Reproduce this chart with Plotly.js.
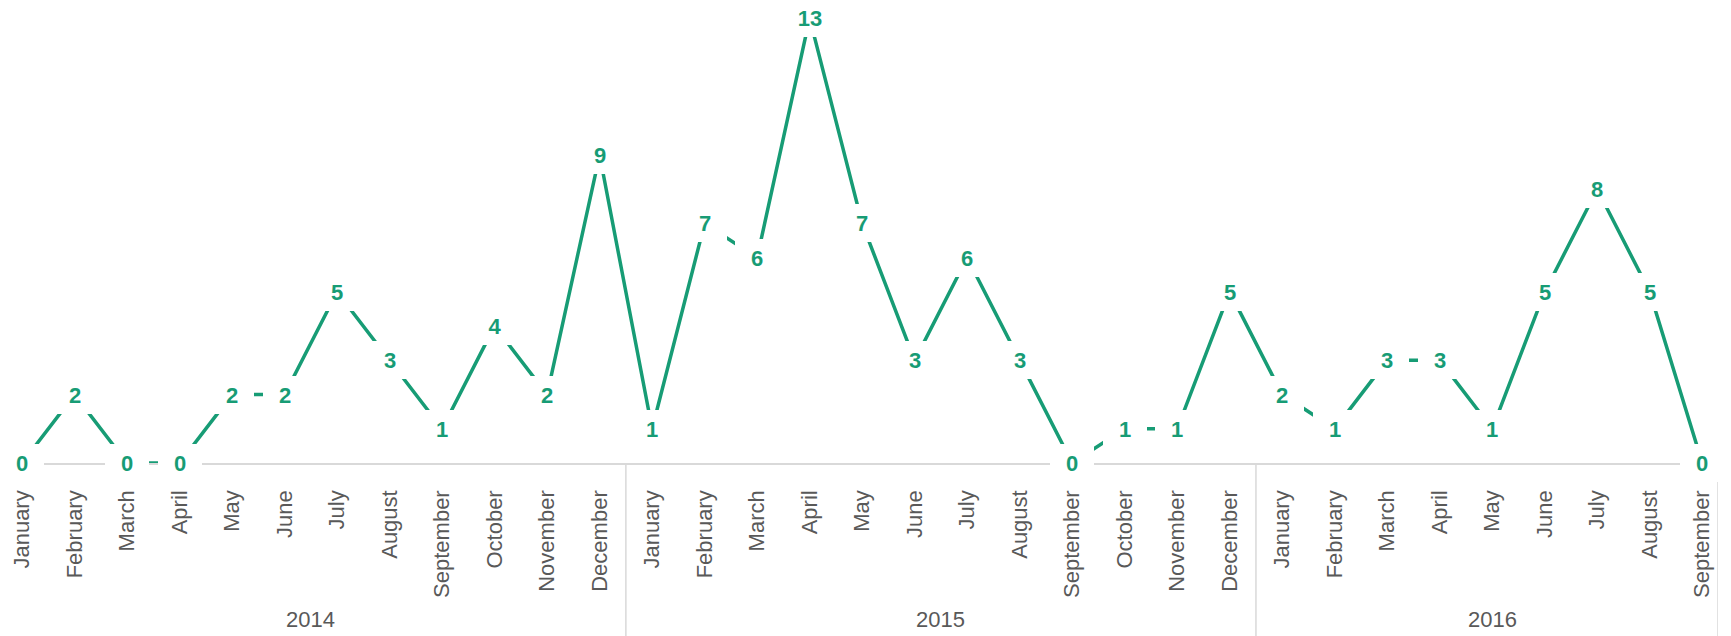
<!DOCTYPE html>
<html>
<head>
<meta charset="utf-8">
<script src="https://cdn.plot.ly/plotly-3.0.1.min.js"></script>
<style>
html,body{margin:0;padding:0;background:#fff;}
#chart{width:1731px;height:636px;}
</style>
</head>
<body>
<div id="chart"></div>
<script>
const years = ['2014', '2015', '2016'];
const months = ['January','February','March','April','May','June','July','August','September','October','November','December'];
const values2014 = [0, 2, 0, 0, 2, 2, 5, 3, 1, 4, 2, 9];
const values2015 = [1, 7, 6, 13, 7, 3, 6, 3, 0, 1, 1, 5];
const values2016 = [2, 1, 3, 3, 1, 5, 8, 5, 0];

const seriesByYear = [values2014, values2015, values2016];
const idx = [], monthLabels = [], values = [];
const groups = [];
let k = 0;
seriesByYear.forEach((vals, yi) => {
  const start = k;
  vals.forEach((v, mi) => {
    idx.push(k);
    monthLabels.push(months[mi]);
    values.push(v);
    k++;
  });
  groups.push({year: years[yi], start: start, end: k - 1});
});

const green = '#179c75';
const gray = '#595959';
const lineGray = '#d9d9d9';
const FONT = '"Liberation Sans Narrow", "Arial Narrow", "Liberation Sans", Arial, sans-serif';
const xRange = [-0.42, 32.3];

const trace = {
  type: 'scatter',
  mode: 'lines',
  x: idx,
  y: values,
  line: {color: green, width: 3.5},
  hoverinfo: 'skip'
};

const annotations = values.map((v, i) => ({
  x: idx[i],
  y: v,
  xref: 'x',
  yref: 'y',
  text: '<b>' + v + '</b>',
  showarrow: false,
  font: {family: FONT, size: 22, color: green},
  bgcolor: '#ffffff',
  width: 34,
  height: 28,
  borderpad: 5,
  borderwidth: 0,
  xanchor: 'center',
  yanchor: 'middle'
}));

groups.forEach(g => {
  annotations.push({
    x: (g.start + g.end) / 2,
    y: -0.339,
    xref: 'x',
    yref: 'paper',
    text: g.year,
    showarrow: false,
    font: {family: FONT, size: 22, color: gray},
    xanchor: 'center',
    yanchor: 'middle'
  });
});

const shapes = groups.map(g => ({
  type: 'line',
  xref: 'x',
  yref: 'paper',
  x0: Math.min(g.end + 0.5, xRange[1]),
  x1: Math.min(g.end + 0.5, xRange[1]),
  y0: 0,
  y1: -0.38,
  line: {color: lineGray, width: 1.5},
  layer: 'below'
}));

const layout = {
  width: 1731,
  height: 636,
  margin: {l: 0, r: 13, t: 0, b: 173},
  paper_bgcolor: '#ffffff',
  plot_bgcolor: '#ffffff',
  showlegend: false,
  xaxis: {
    type: 'linear',
    range: xRange,
    tickmode: 'array',
    tickvals: idx,
    ticktext: monthLabels,
    showline: true,
    linecolor: lineGray,
    linewidth: 1.5,
    showgrid: false,
    zeroline: false,
    ticks: '',
    tickangle: -90,
    ticklabelstandoff: 17,
    tickfont: {family: FONT, size: 22, color: gray}
  },
  yaxis: {
    range: [0, 13.53],
    visible: false,
    showgrid: false,
    zeroline: false
  },
  annotations: annotations,
  shapes: shapes
};

Plotly.newPlot('chart', [trace], layout, {displayModeBar: false, staticPlot: true});
</script>
</body>
</html>
